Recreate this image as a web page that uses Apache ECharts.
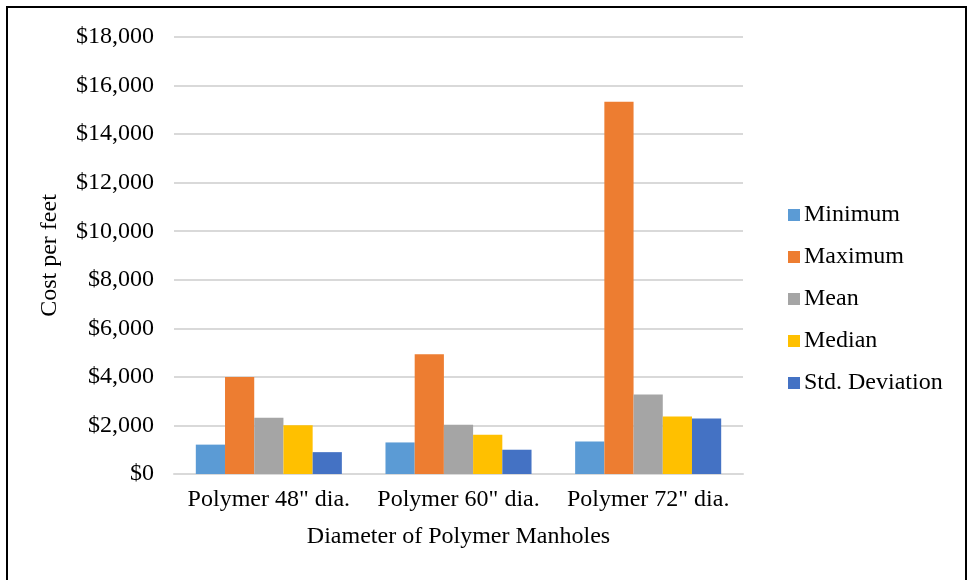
<!DOCTYPE html>
<html>
<head>
<meta charset="utf-8">
<script src="https://cdn.jsdelivr.net/npm/echarts@6/dist/echarts.min.js"></script>
<style>
  html, body { margin: 0; padding: 0; background: #fff; }
  #chart { width: 967px; height: 580px; }
</style>
</head>
<body>
<div id="chart"></div>
<script>
const categories = ['Polymer 48" dia.', 'Polymer 60" dia.', 'Polymer 72" dia.'];
const minimum = [1210, 1300, 1340];
const maximum = [4000, 4930, 15330];
const mean = [2320, 2030, 3270];
const median = [2010, 1620, 2370];
const stdDeviation = [900, 1000, 2290];
const colors = ["#5B9BD5", "#ED7D31", "#A5A5A5", "#FFC000", "#4472C4"];
const font = "'Liberation Serif', 'Times New Roman', serif";

const makeSeries = (name, data) => ({
  name,
  type: "bar",
  data,
  barGap: "0%",
  barCategoryGap: "23%"
});

const chart = echarts.init(document.getElementById("chart"));
chart.setOption({
  animation: false,
  color: colors,
  textStyle: { fontFamily: font, color: "#000" },
  grid: { left: 174, right: 224, top: 37, bottom: 106 },
  graphic: [
    {
      type: "rect",
      shape: { x: 7, y: 7, width: 959, height: 600 },
      style: { fill: "none", stroke: "#000", lineWidth: 2 },
      silent: true
    }
  ],
  legend: {
    orient: "vertical",
    left: 783,
    top: 198,
    itemWidth: 12,
    itemHeight: 12,
    itemGap: 18,
    icon: "rect",
    textStyle: { fontFamily: font, fontSize: 24, lineHeight: 24, color: "#000", padding: [0, 0, 0, -1] }
  },
  xAxis: {
    type: "category",
    data: categories,
    name: "Diameter of Polymer Manholes",
    nameLocation: "middle",
    nameGap: 51,
    nameTextStyle: { fontFamily: font, fontSize: 24, color: "#000" },
    axisTick: { show: false },
    axisLine: { lineStyle: { color: "#d9d9d9", width: 2 } },
    axisLabel: { fontFamily: font, fontSize: 24, color: "#000", margin: 14, interval: 0 }
  },
  yAxis: {
    type: "value",
    min: 0,
    max: 18000,
    interval: 2000,
    name: "Cost per feet",
    nameLocation: "middle",
    nameGap: 112,
    nameTextStyle: { fontFamily: font, fontSize: 24, color: "#000" },
    axisLine: { show: false },
    axisTick: { show: false },
    splitLine: { lineStyle: { color: "#d9d9d9", width: 2 } },
    axisLabel: {
      fontFamily: font,
      fontSize: 24,
      color: "#000",
      margin: 20,
      formatter: v => "$" + v.toLocaleString("en-US")
    }
  },
  series: [
    makeSeries("Minimum", minimum),
    makeSeries("Maximum", maximum),
    makeSeries("Mean", mean),
    makeSeries("Median", median),
    makeSeries("Std. Deviation", stdDeviation)
  ]
});
</script>
</body>
</html>
